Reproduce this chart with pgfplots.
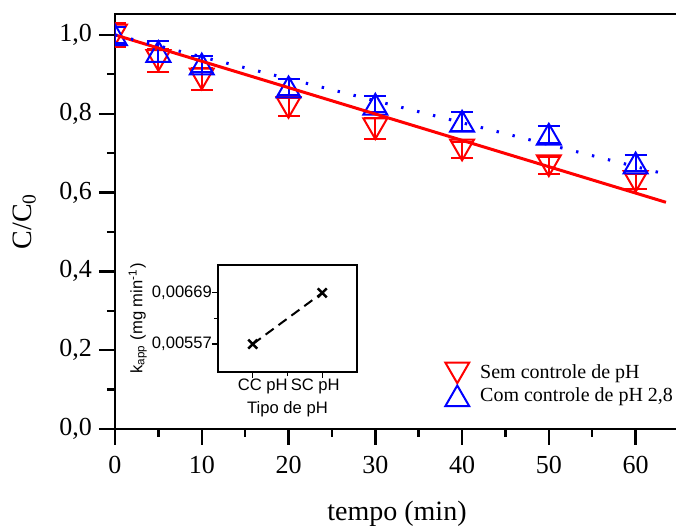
\documentclass[border=0pt]{standalone}
\usepackage{fontspec}
\setmainfont{Liberation Serif}
\newfontfamily\arial{Liberation Sans}
\usepackage{pgfplots}
\pgfplotsset{compat=1.18}
\definecolor{myred}{RGB}{255,0,0}
\definecolor{myblue}{RGB}{0,0,255}

\pgfplotstableread{
t c e
0 1.000 0.030
5 0.935 0.028
10 0.888 0.027
20 0.816 0.023
30 0.762 0.026
40 0.708 0.021
50 0.668 0.021
60 0.628 0.020
}\semdata

\pgfplotstableread{
t c e
0 1.000 0.020
5 0.958 0.027
10 0.926 0.020
20 0.868 0.020
30 0.824 0.020
40 0.781 0.024
50 0.748 0.022
60 0.675 0.020
}\comdata

\pgfplotstableread{
x k
1 0.00557
2 0.00669
}\kdata

\begin{document}
\begin{tikzpicture}
\begin{axis}[
  at={(0,0)}, anchor=south west,
  scale only axis, width=282pt, height=207.5pt,
  xmin=0, xmax=65, ymin=0, ymax=1.053,
  clip marker paths=true,
  axis line style={line width=1.2pt},
  every tick/.style={black, line width=1.2pt},
  major tick length=8pt, minor tick length=4pt,
  tick align=outside, tick pos=left,
  xtick={0,10,20,30,40,50,60}, minor xtick={5,15,25,35,45,55},
  ytick={0,0.2,0.4,0.6,0.8,1.0}, minor ytick={0.1,0.3,0.5,0.7,0.9},
  /pgf/number format/assume math mode=true,
  ticklabel style={font=\fontsize{13}{15}\selectfont},
  yticklabel style={/pgf/number format/.cd, fixed, fixed zerofill, precision=1, use comma},
  xticklabel style={yshift=-2pt, /pgf/number format/.cd, fixed, precision=0},
  xlabel={tempo (min)}, ylabel={C/C\textsubscript{0}},
  label style={font=\fontsize{14}{16}\selectfont},
  xlabel style={yshift=-7pt},
  ylabel style={yshift=5pt},
  legend style={draw=none, fill=none, at={(0.585,0.166)}, anchor=north west,
    font=\fontsize{10}{12}\selectfont, row sep=-1pt, inner sep=0pt},
  legend cell align=left,
]
\addplot[only marks, color=myred, mark=triangle, mark size=6.9pt,
  mark options={yshift=1.73pt, rotate=180, line width=1pt},
  error bars/.cd, y dir=both, y explicit,
  error bar style={line width=1pt, myred},
  error mark options={rotate=90, mark size=5.5pt, line width=1pt, myred}]
  table[x=t, y=c, y error=e] {\semdata};
\addlegendentry{\hspace*{3.5pt}Sem controle de pH}
\addplot[only marks, color=myblue, mark=triangle, mark size=6.9pt,
  mark options={yshift=-1.73pt, line width=1pt},
  error bars/.cd, y dir=both, y explicit,
  error bar style={line width=1pt, myblue},
  error mark options={rotate=90, mark size=5.5pt, line width=1pt, myblue}]
  table[x=t, y=c, y error=e] {\comdata};
\addlegendentry{\hspace*{3.5pt}Com controle de pH 2,8}
\addplot[forget plot, myred, line width=1.5pt] coordinates {(0,1.0) (63.5,0.5752)};
\addplot[forget plot, myblue, line width=1.5pt, dash pattern=on 1.2pt off 7pt] coordinates {(0,1.0) (63.5,0.6463)};
\end{axis}

\begin{axis}[
  at={(51.5pt,28.5pt)}, anchor=south west,
  scale only axis, width=69.5pt, height=53.5pt,
  xmin=0.5, xmax=2.5, ymin=0.00496, ymax=0.00730,
  scaled y ticks=false,
  xtick={1,2}, xticklabels={\hspace*{10pt}CC pH, SC pH\hspace*{7pt}},
  ytick={0.00557,0.00669}, yticklabels={{0,00557},{0,00669}},
  minor xtick={1.5}, minor ytick={0.00613},
  tick align=outside, tick pos=left,
  axis line style={line width=0.6pt},
  every tick/.style={black, line width=0.6pt},
  major tick length=3pt, minor tick length=2pt,
  ticklabel style={font=\arial\fontsize{8.3}{10}\selectfont},
  xlabel={Tipo de pH}, ylabel={k\textsubscript{app} (mg min\textsuperscript{-1})},
  label style={font=\arial\fontsize{8.3}{10}\selectfont},
  xlabel style={yshift=3pt}, ylabel style={yshift=-4.25pt},
  xticklabel style={yshift=3pt}, yticklabel style={xshift=3.5pt},
]
\addplot[black, line width=1pt, dash pattern=on 5pt off 3pt, mark=x, mark size=3.2pt,
  mark options={solid, line width=1.2pt}] table[x=x, y=k] {\kdata};
\end{axis}
\pgfresetboundingbox
\path (-57.5pt,-50pt) rectangle (280.5pt,214.5pt);
\end{tikzpicture}
\end{document}
